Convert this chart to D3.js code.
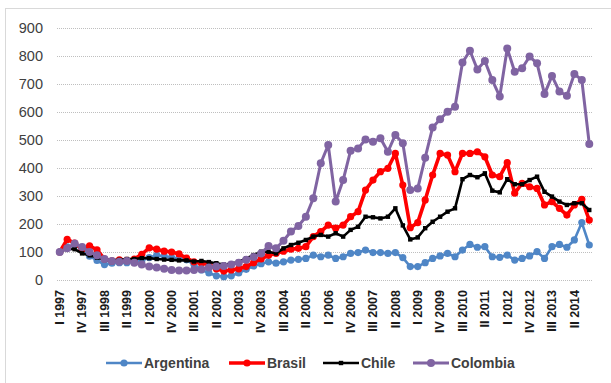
<!DOCTYPE html>
<html>
<head>
<meta charset="utf-8">
<script src="https://cdn.jsdelivr.net/npm/d3@7"></script>
<style>
  html, body { margin: 0; padding: 0; background: #fff; }
  svg { display: block; }
</style>
</head>
<body>
<svg id="chart" width="611" height="383"></svg>
<script>
// Quarterly index, I 1997 = 100
const years = d3.range(1997, 2015);
const quarterNames = ["I", "II", "III", "IV"];
const quarters = years.flatMap(y => quarterNames.map(q => q + " " + y));

const argentina = [100, 118, 125, 108, 85, 70, 55, 60, 62, 62, 65, 70, 80, 88, 85, 80, 77, 72,
  55, 36, 25, 15, 12, 15, 25, 38, 50, 58, 65, 60, 65, 71, 74, 77, 89, 83, 89, 77, 83, 95,
  98, 107, 98, 98, 95, 98, 80, 48, 48, 62, 77, 86, 95, 83, 107, 127, 117, 119, 83, 81, 89,
  71, 77, 86, 101, 77, 119, 127, 117, 143, 205, 125];
const brasil = [100, 145, 132, 110, 122, 108, 75, 68, 72, 70, 75, 92, 115, 110, 103, 100, 93,
  78, 65, 60, 55, 40, 32, 36, 40, 48, 62, 75, 88, 95, 103, 110, 113, 119, 155, 173, 196,
  185, 196, 226, 244, 321, 357, 387, 399, 452, 339, 187, 205, 286, 375, 452, 446, 387, 452,
  452, 458, 440, 375, 369, 419, 310, 345, 333, 327, 268, 280, 256, 232, 268, 288, 214];
const chile = [100, 112, 110, 95, 88, 80, 72, 70, 72, 75, 75, 78, 78, 75, 73, 72, 70, 70, 66,
  68, 64, 60, 55, 58, 65, 77, 89, 101, 101, 95, 113, 125, 133, 143, 155, 161, 155, 167, 155,
  179, 190, 226, 224, 220, 226, 256, 195, 145, 152, 185, 208, 226, 244, 256, 360, 375, 367,
  381, 319, 313, 360, 342, 342, 357, 369, 315, 298, 280, 268, 274, 274, 250];
const colombia = [100, 113, 130, 118, 100, 88, 75, 68, 65, 68, 62, 55, 48, 45, 40, 36, 34, 34,
  36, 38, 45, 48, 50, 55, 62, 72, 82, 95, 121, 113, 140, 173, 193, 226, 292, 417, 482, 280,
  357, 462, 470, 502, 494, 506, 458, 518, 488, 321, 327, 437, 545, 574, 601, 619, 777, 819,
  752, 782, 714, 655, 827, 744, 756, 798, 774, 664, 729, 673, 658, 736, 714, 486];

const yTicks = [0, 100, 200, 300, 400, 500, 600, 700, 800, 900];

const series = [
  { name: "Argentina", values: argentina, color: "#4f86c6", width: 2.6, marker: "circle", r: 3.6 },
  { name: "Brasil",    values: brasil,    color: "#ff0000", width: 3.6, marker: "circle", r: 3.6 },
  { name: "Chile",     values: chile,     color: "#000000", width: 2.6, marker: "square", r: 2.2 },
  { name: "Colombia",  values: colombia,  color: "#8064a2", width: 3,   marker: "circle", r: 4 }
];

const svg = d3.select("#chart");

// outer chart frame
svg.append("rect")
  .attr("x", 5.5).attr("y", 8.5).attr("width", 700).attr("height", 500)
  .attr("fill", "none").attr("stroke", "#d9d9d9").attr("stroke-width", 1);

const x = d3.scaleBand().domain(quarters).range([56, 593]);
const y = d3.scaleLinear().domain([0, 900]).range([280, 28]);

// horizontal gridlines
svg.append("g")
  .selectAll("line")
  .data(yTicks)
  .join("line")
  .attr("x1", 57).attr("x2", 593)
  .attr("y1", d => Math.round(y(d)) + 0.5).attr("y2", d => Math.round(y(d)) + 0.5)
  .attr("stroke", "#bfbfbf").attr("stroke-width", 1)
  .attr("stroke-dasharray", "1,1");

// y axis labels
const yAxis = d3.axisLeft(y).tickValues(yTicks).tickSize(0).tickPadding(0);
const gy = svg.append("g").attr("transform", "translate(43,0)").call(yAxis);
gy.select(".domain").remove();
gy.selectAll("text")
  .attr("font-family", "'Liberation Sans', Arial, sans-serif")
  .attr("font-size", "14.5px")
  .attr("fill", "#404040");

// x axis labels, every third quarter
const xAxis = d3.axisBottom(x)
  .tickValues(quarters.filter((q, i) => i % 3 === 0))
  .tickSize(0).tickPadding(0);
const gx = svg.append("g").attr("transform", "translate(0,290)").call(xAxis);
gx.select(".domain").remove();
gx.selectAll("text")
  .attr("font-family", "'Liberation Sans', Arial, sans-serif")
  .attr("font-size", "12.5px")
  .attr("font-weight", "bold")
  .attr("fill", "#1a1a1a")
  .attr("transform", "rotate(-90)")
  .attr("text-anchor", "end")
  .attr("x", 0).attr("y", 0)
  .attr("dy", "0.35em");

const cx = (d, i) => x(quarters[i]) + x.bandwidth() / 2;
const line = d3.line().x(cx).y(d => y(d));

function drawMarker(sel, s) {
  if (s.marker === "square") {
    sel.append("rect")
      .attr("x", -s.r).attr("y", -s.r)
      .attr("width", 2 * s.r).attr("height", 2 * s.r)
      .attr("fill", s.color);
  } else {
    sel.append("circle").attr("r", s.r).attr("fill", s.color);
  }
}

// series lines with markers
series.forEach(s => {
  const g = svg.append("g");
  g.append("path")
    .datum(s.values)
    .attr("d", line)
    .attr("fill", "none")
    .attr("stroke", s.color)
    .attr("stroke-width", s.width)
    .attr("stroke-linejoin", "round");
  g.selectAll("g.pt")
    .data(s.values)
    .join("g")
    .attr("class", "pt")
    .attr("transform", (d, i) => `translate(${cx(d, i)},${y(d)})`)
    .each(function () { drawMarker(d3.select(this), s); });
});

// legend
const legendX = [106, 229, 323, 413];
const legend = svg.append("g");
series.forEach((s, i) => {
  const g = legend.append("g").attr("transform", `translate(${legendX[i]},363)`);
  g.append("line")
    .attr("x1", 0).attr("x2", 36).attr("y1", 0).attr("y2", 0)
    .attr("stroke", s.color).attr("stroke-width", s.width);
  const m = g.append("g").attr("transform", "translate(18,0)");
  drawMarker(m, s);
  g.append("text")
    .attr("x", 38).attr("y", 0).attr("dy", "0.35em")
    .attr("font-family", "'Liberation Sans', Arial, sans-serif")
    .attr("font-size", "14px")
    .attr("font-weight", "bold")
    .attr("fill", "#404040")
    .text(s.name);
});
</script>
</body>
</html>
